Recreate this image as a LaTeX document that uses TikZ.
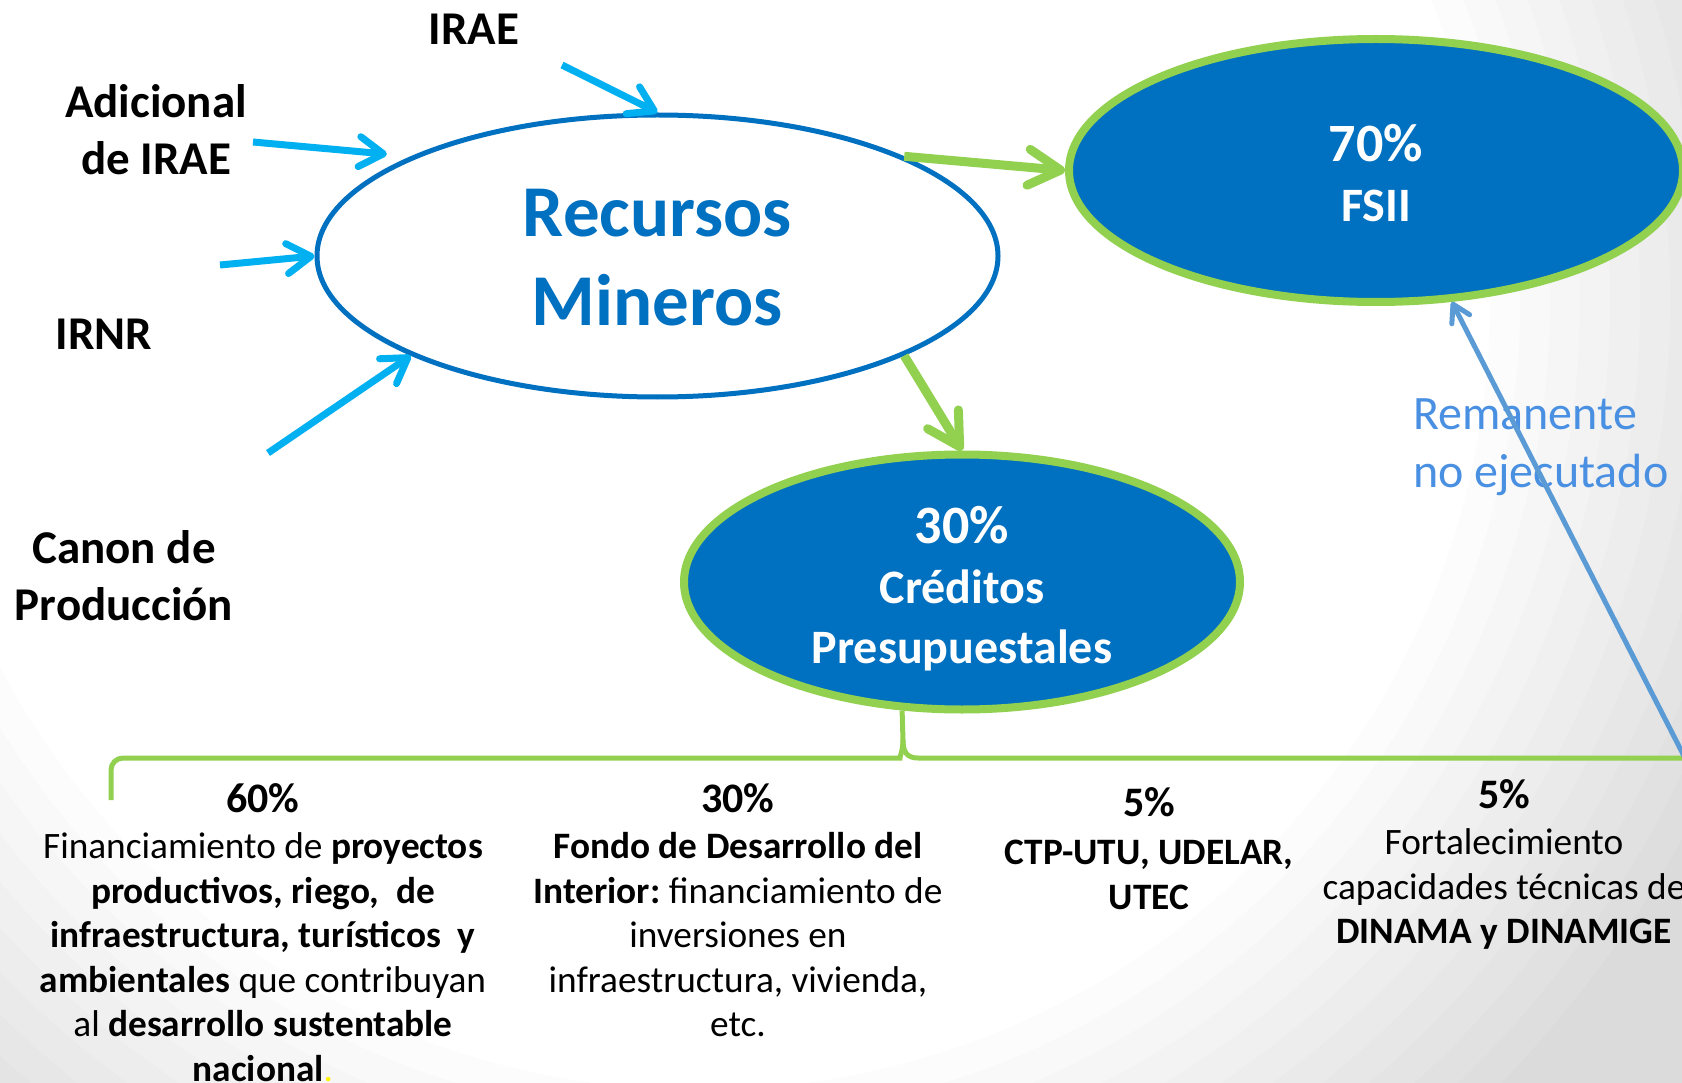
\documentclass[tikz,border=0pt]{standalone}
\usepackage{fontspec}
\setmainfont{Carlito}
\usetikzlibrary{shapes.geometric,arrows.meta}
\definecolor{mblue}{HTML}{0070C0}
\definecolor{mgreen}{HTML}{92D050}
\definecolor{mcyan}{HTML}{00B0F0}
\definecolor{msteel}{HTML}{5B9BD5}
\definecolor{mrem}{HTML}{4A90E2}
\newcommand\myfs[2]{\fontsize{#1}{#2}\selectfont}
\begin{document}
\frenchspacing
\begin{tikzpicture}[x=1pt,y=-1pt,
  src/.style={font=\myfs{47}{57}\bfseries, align=center, inner sep=0pt},
  inarrow/.style={draw=mcyan, line width=7pt, -{Straight Barb[length=24pt,width=30pt,round]}},
  outarrow/.style={draw=mgreen, line width=9pt, -{Straight Barb[length=32pt,width=36pt,round]}},
  bluefill/.style={ellipse, fill=mblue, draw=mgreen, line width=8pt, inner sep=0pt, text=white, font=\myfs{48}{60}\bfseries, align=center},
  head/.style={font=\myfs{42}{50}\bfseries, inner sep=0pt},
  body/.style={font=\myfs{37.3}{44.5}\frenchspacing, align=center, inner sep=0pt},
  bracestyle/.style={draw=mgreen, line width=5pt},
  vignring/.style={fill=black, fill opacity=0.013, even odd rule},
]
\useasboundingbox (0,0) rectangle (1682,1083);
\clip (0,0) rectangle (1682,1083);
\fill[white] (0,0) rectangle (1682,1083);
\foreach \r in {790,820,...,1120}
  \fill[vignring] (0,0) rectangle (1682,1083) (700,300) circle[radius=\r pt];

% main ellipses
\node[ellipse, draw=mblue, line width=5pt, minimum width=681pt, minimum height=282pt, inner sep=0pt, text=mblue, font=\myfs{73}{89}\bfseries, align=center] (rm) at (657.5,256) {\rule{0pt}{51pt}Recursos\\Mineros};
\node[bluefill, minimum width=614pt, minimum height=263pt] (fsii) at (1376,170.5) {\rule{0pt}{42pt}{\fontsize{54}{60}\selectfont 70\%}\\FSII};
\node[bluefill, minimum width=556pt, minimum height=255pt] (crd) at (962,582) {\rule{0pt}{50pt}{\fontsize{54}{60}\selectfont 30\%}\\Créditos\\Presupuestales};

% source labels
\node[src] (irae) at (474,29) {IRAE};
\node[src] (adic) at (156,130) {Adicional\\de IRAE};
\node[src] (irnr) at (104,334) {IRNR};
\node[src] (canon) at (124,576) {Canon de\\Producción};

% incoming arrows
\coordinate (s1) at (562,65);
\coordinate (s2) at (253,142);
\coordinate (s3) at (220,265);
\coordinate (s4) at (268,453);
\draw[inarrow] (s1) -- (rm.north);
\draw[inarrow, shorten >=24pt] (s2) -- (rm.158.7);
\draw[inarrow] (s3) -- (rm.west);
\draw[inarrow] (s4) -- (rm.202.4);

% outgoing arrows
\draw[outarrow] (rm.22.4) -- (fsii.west);
\draw[outarrow] (rm.-22.6) -- (crd.north);

% brace
\draw[bracestyle] (111,800) [rounded corners=12pt] -- (111,758) -- (888,758) [sharp corners] .. controls (899,758) and (903,752) .. (903,740) -- (crd.245.3);
\draw[bracestyle] (903,740) .. controls (903,752) and (907,758) .. (918,758) [rounded corners=12pt] -- (1698,758) -- (1698,800);

% bottom columns
\node[head] (h1) at (263,798) {60\%};
\node[body] (b1) at (263,957) {Financiamiento de \textbf{proyectos}\\ \textbf{productivos, riego,\ \ de}\\ \textbf{infraestructura, turísticos\ \ y}\\ \textbf{ambientales} que contribuyan\\ al \textbf{desarrollo sustentable}\\ \textbf{nacional}{\color{yellow}.}};
\node[head] (h2) at (738,798) {30\%};
\node[body] (b2) at (738,935) {\textbf{Fondo de Desarrollo del}\\ \textbf{Interior:} financiamiento de\\ inversiones en\\ infraestructura, vivienda,\\ etc.};
\node[head] (h3) at (1149,802) {5\%};
\node[body] (b3) at (1149,875) {\textbf{CTP-UTU, UDELAR,}\\ \textbf{UTEC}};
\node[head] (h4) at (1504,794) {5\%};
\node[body] (b4) at (1504,889) {Fortalecimiento\\ capacidades técnicas de\\ \textbf{DINAMA y DINAMIGE}};

% remanente
\node[font=\myfs{48}{58}, text=mrem, align=left, anchor=north west, inner sep=0pt] (rem) at (1413,399) {Remanente\\no ejecutado};
\coordinate (rs) at (1685,758);
\draw[draw=msteel, line width=5pt, -{Straight Barb[length=17pt,width=20pt,round]}] (rs) -- (fsii.-60);
\end{tikzpicture}
\end{document}
